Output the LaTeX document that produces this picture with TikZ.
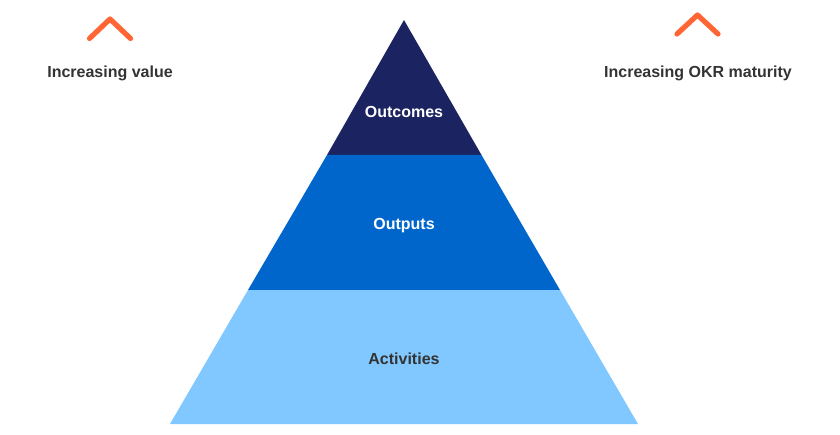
\documentclass[tikz,border=0pt]{standalone}
\usepackage{fontspec}
\setmainfont{Liberation Sans}
\definecolor{navy}{HTML}{1B2360}
\definecolor{midblue}{HTML}{0066CC}
\definecolor{lightblue}{HTML}{80C8FF}
\definecolor{chev}{HTML}{FF6633}
\definecolor{txtgrey}{HTML}{333333}
\tikzset{
  lbl/.style={font=\bfseries\fontsize{12}{14}\selectfont, inner sep=0pt, anchor=base},
  chevron/.style={draw=chev, line width=3.9pt, line cap=round, line join=round}
}
\begin{document}
\begin{tikzpicture}[x=0.75pt,y=-0.75pt]
\useasboundingbox (0,0) rectangle (840,435);
% pyramid layers
\coordinate (apex) at (404,20);
\coordinate (l1) at (327,155); \coordinate (r1) at (481.5,155);
\coordinate (l2) at (248,290); \coordinate (r2) at (560,290);
\coordinate (l3) at (170,424); \coordinate (r3) at (638,424);
\fill[navy] (apex) -- (r1) -- (l1) -- cycle;
\fill[midblue] (l1) -- (r1) -- (r2) -- (l2) -- cycle;
\fill[lightblue] (l2) -- (r2) -- (r3) -- (l3) -- cycle;
\node[lbl, text=white] (outcomes) at (404,117.5) {Outcomes};
\node[lbl, text=white] (outputs) at (404,229.5) {Outputs};
\node[lbl, text=txtgrey] (activities) at (404,364) {Activities};
% chevrons
\draw[chevron] (89.5,38.5) -- (110,19) -- (130.5,38.5);
\draw[chevron] (677,34) -- (697.5,15) -- (718,34);
\node[lbl, text=txtgrey] (incval) at (110,77.5) {Increasing value};
\node[lbl, text=txtgrey] (incokr) at (698,77.5) {Increasing OKR maturity};
\end{tikzpicture}
\end{document}
